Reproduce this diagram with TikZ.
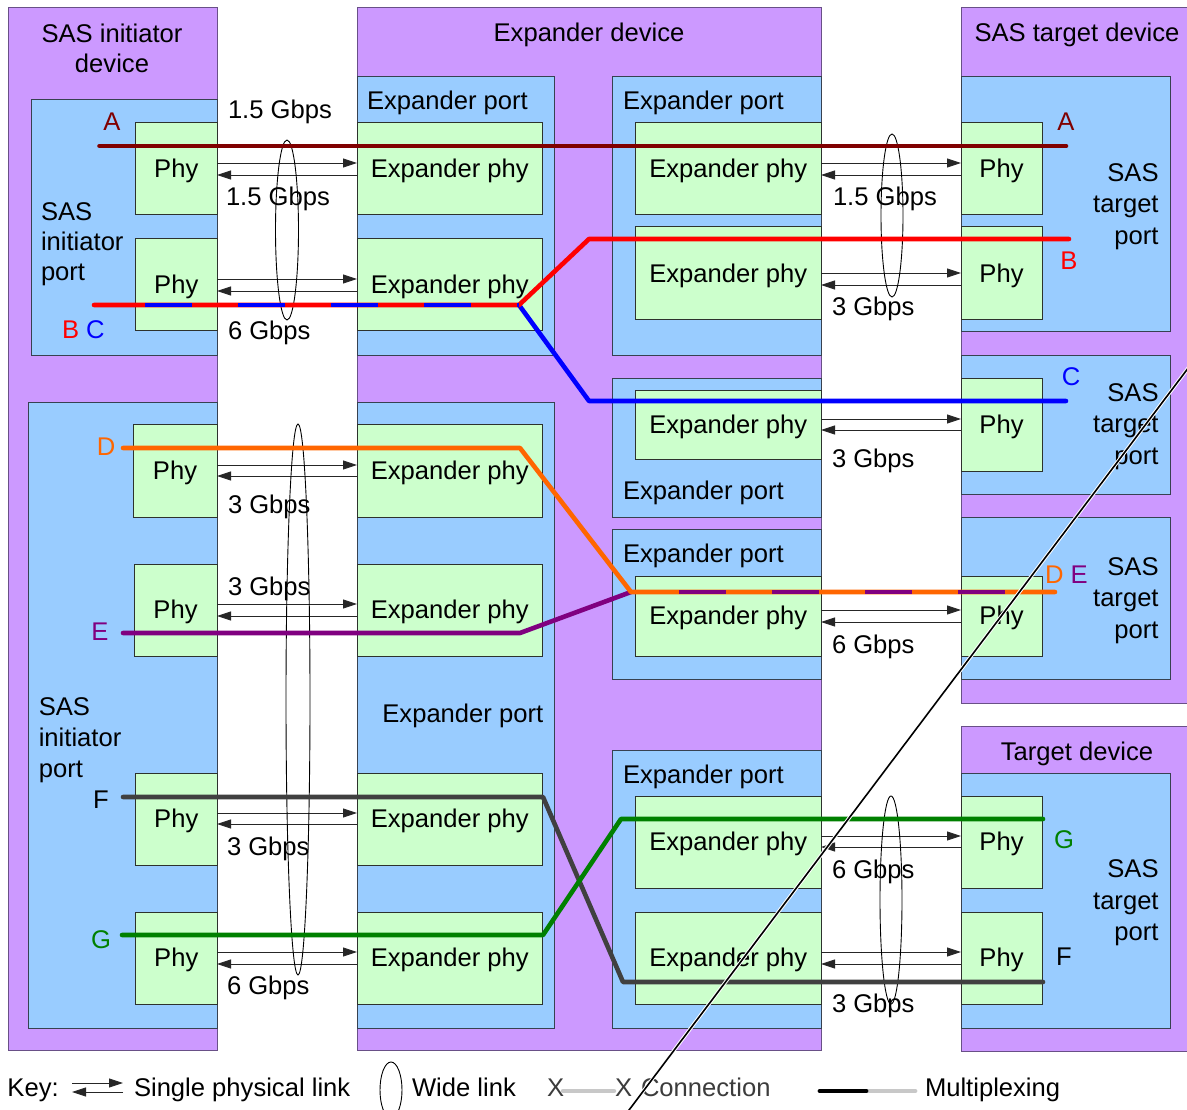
\documentclass[tikz,border=0pt]{standalone}
\usepackage{fontspec}
\setmainfont{Liberation Sans}
\usetikzlibrary{arrows.meta,shapes.geometric}
\definecolor{devfill}{RGB}{204,153,255}
\definecolor{devline}{RGB}{105,80,135}
\definecolor{portfill}{RGB}{153,204,255}
\definecolor{portline}{RGB}{55,65,80}
\definecolor{phyfill}{RGB}{204,255,204}
\definecolor{phyline}{RGB}{45,50,45}
\definecolor{cA}{RGB}{128,0,0}
\definecolor{cB}{RGB}{255,0,0}
\definecolor{cC}{RGB}{0,0,255}
\definecolor{cD}{RGB}{255,102,0}
\definecolor{cE}{RGB}{128,0,128}
\definecolor{cF}{RGB}{64,64,64}
\definecolor{cG}{RGB}{0,128,0}
\definecolor{keygray}{RGB}{200,200,200}
\definecolor{keytext}{RGB}{60,60,60}
\newcommand{\fsz}[1]{\fontsize{25.6}{#1}\selectfont}
\newcommand{\mkbox}[7]{%
  \pgfmathsetmacro{\mkw}{#5-#3}%
  \pgfmathsetmacro{\mkh}{#6-#4}%
  \node[#2, anchor=north west, minimum width=\mkw pt, minimum height=\mkh pt] (#1) at (#3,#4) {#7};}
\begin{document}
\begin{tikzpicture}[x=1pt, y=-1pt,
  every node/.style={font=\fsz{31}, inner sep=0pt, outer sep=0pt},
  devbox/.style={draw=devline, fill=devfill, line width=1pt},
  portbox/.style={draw=portline, fill=portfill, line width=1pt},
  phybox/.style={draw=phyline, fill=phyfill, line width=1pt, text height=17.5pt, text depth=0pt},
  lnk/.style={draw=black!85, line width=0.9pt, -{Triangle[length=14pt,width=9pt]}},
  wide/.style={draw=black, ellipse, line width=0.9pt},
  conn/.style={line width=4.6pt, line cap=round, line join=round},
  muxd/.style={line width=4.6pt, line cap=butt, dash pattern=on 46.5pt off 46.5pt},
  gb/.style={anchor=base west},
  lbl/.style={anchor=base}]
\useasboundingbox (0,0) rectangle (1187,1110);
\clip (0,0) rectangle (1187,1110);
\fill[white] (0,0) rectangle (1187,1110);

% devices
\mkbox{dI}{devbox}{8}{8}{217}{1050}{}
\mkbox{dE}{devbox}{357}{8}{821}{1050}{}
\mkbox{dT}{devbox}{961}{8}{1192}{703}{}
\mkbox{dT2}{devbox}{961}{726}{1192}{1051}{}

% ports
\mkbox{pI1}{portbox}{31}{100}{217}{355}{}
\mkbox{pI2}{portbox}{28}{402}{217}{1028}{}
\mkbox{pE1}{portbox}{357}{77}{554}{355}{}
\mkbox{pE2}{portbox}{357}{402}{554}{1028}{}
\mkbox{pX1}{portbox}{612}{77}{821}{355}{}
\mkbox{pX2}{portbox}{612}{378}{821}{517}{}
\mkbox{pX3}{portbox}{612}{529}{821}{679}{}
\mkbox{pX4}{portbox}{612}{750}{821}{1028}{}
\mkbox{pT1}{portbox}{961}{77}{1170}{332}{}
\mkbox{pT2}{portbox}{961}{355}{1170}{494}{}
\mkbox{pT3}{portbox}{961}{517}{1170}{679}{}
\mkbox{pT4}{portbox}{961}{773}{1170}{1028}{}

% phys
\mkbox{hI1}{phybox}{135.5}{123}{217}{215}{Phy}
\mkbox{hI2}{phybox}{135.5}{239}{217}{331}{Phy}
\mkbox{hI3}{phybox}{133}{424}{217}{517}{Phy}
\mkbox{hI4}{phybox}{134}{564}{217}{656}{Phy}
\mkbox{hI5}{phybox}{135.5}{773}{217}{865}{Phy}
\mkbox{hI6}{phybox}{135.5}{912}{217}{1004}{Phy}

\mkbox{hE1}{phybox}{357}{123}{542.5}{215}{Expander phy}
\mkbox{hE2}{phybox}{357}{239}{542.5}{331}{Expander phy}
\mkbox{hE3}{phybox}{357}{424}{542.5}{517}{Expander phy}
\mkbox{hE4}{phybox}{357}{564}{542.5}{656}{Expander phy}
\mkbox{hE5}{phybox}{357}{773}{542.5}{865}{Expander phy}
\mkbox{hE6}{phybox}{357}{912}{542.5}{1004}{Expander phy}

\mkbox{hX1}{phybox}{635.5}{123}{821}{215}{Expander phy}
\mkbox{hX2}{phybox}{635.5}{227}{821}{320}{Expander phy}
\mkbox{hX3}{phybox}{635.5}{390}{821}{459}{Expander phy}
\mkbox{hX4}{phybox}{635.5}{576}{821}{656}{Expander phy}
\mkbox{hX5}{phybox}{635.5}{796}{821}{888}{Expander phy}
\mkbox{hX6}{phybox}{635.5}{912}{821}{1004}{Expander phy}

\mkbox{hT1}{phybox}{961}{123}{1042}{215}{Phy}
\mkbox{hT2}{phybox}{961}{227}{1042}{320}{Phy}
\mkbox{hT3}{phybox}{961}{378}{1042}{471}{Phy}
\mkbox{hT4}{phybox}{961}{576}{1042}{656}{Phy}
\mkbox{hT5}{phybox}{961}{796}{1042}{888}{Phy}
\mkbox{hT6}{phybox}{961}{912}{1042}{1004}{Phy}

% titles and port labels
\node[anchor=north, align=center, font=\fsz{30}] (tI) at (112,23.6) {SAS initiator\\device};
\node[lbl] (tE) at (589,41.5) {Expander device};
\node[lbl] (tT) at (1077,41.5) {SAS target device};
\node[lbl] (tT2) at (1077,760.5) {Target device};

\node[anchor=north west, align=left, font=\fsz{30}] (lI1) at (41,202.2) {SAS\\initiator\\port};
\node[anchor=north west, align=left, font=\fsz{31}] (lI2) at (38.8,697.6) {SAS\\initiator\\port};
\node[gb] (lE1) at (367,110) {Expander port};
\node[gb] (lE2) at (382.4,722.5) {Expander port};
\node[gb] (lX1) at (623,110) {Expander port};
\node[gb] (lX2) at (623,499) {Expander port};
\node[gb] (lX3) at (623,562.5) {Expander port};
\node[gb] (lX4) at (623,783.5) {Expander port};
\node[anchor=north east, align=right, font=\fsz{31.3}] (lT1) at (1158.6,163.6) {SAS\\target\\port};
\node[anchor=north east, align=right, font=\fsz{31.3}] (lT2) at (1158.6,383.6) {SAS\\target\\port};
\node[anchor=north east, align=right, font=\fsz{31.3}] (lT3) at (1158.6,557.6) {SAS\\target\\port};
\node[anchor=north east, align=right, font=\fsz{31.3}] (lT4) at (1158.6,860) {SAS\\target\\port};

% single physical links
\foreach \k/\u/\d in {1/6/-6,2/6/-6,3/5.5/-5.5,4/6/-6,5/6/-5,6/6/-6}{
  \draw[lnk] ([yshift=\u pt]hI\k.east) -- ([yshift=\u pt]hE\k.west);
  \draw[lnk] ([yshift=\d pt]hE\k.west) -- ([yshift=\d pt]hI\k.east);
}
\foreach \k/\u/\d in {1/6/-6,2/0.5/-11.5,3/5.5/-5.5,4/6/-6,5/6/-5,6/6/-6}{
  \draw[lnk] ([yshift=\u pt]hX\k.east) -- ([yshift=\u pt]hT\k.west);
  \draw[lnk] ([yshift=\d pt]hT\k.west) -- ([yshift=\d pt]hX\k.east);
}

% rate labels
\node[gb] (g1) at (228,119) {1.5 Gbps};
\node[gb] (g2) at (226,206) {1.5 Gbps};
\node[gb] (g3) at (228,339) {6 Gbps};
\node[gb] (g4) at (228,513.5) {3 Gbps};
\node[gb] (g5) at (228,595) {3 Gbps};
\node[gb] (g6) at (227,855.5) {3 Gbps};
\node[gb] (g7) at (227,994.5) {6 Gbps};
\node[gb] (g8) at (833,206) {1.5 Gbps};
\node[gb] (g9) at (832,316) {3 Gbps};
\node[gb] (g10) at (832,467.5) {3 Gbps};
\node[gb] (g11) at (832,653.5) {6 Gbps};
\node[gb] (g12) at (832,878.5) {6 Gbps};
\node[gb] (g13) at (832,1012) {3 Gbps};

% wide links
\node[wide, minimum width=23pt, minimum height=180pt] (w1) at (287,230) {};
\node[wide, minimum width=24pt, minimum height=551pt] (w2) at (298,699.5) {};
\node[wide, minimum width=22pt, minimum height=163pt] (w3) at (892,215.5) {};
\node[wide, minimum width=22pt, minimum height=208pt] (w4) at (891,900) {};

% connections
\coordinate (A1) at (99.5,146); \coordinate (A2) at (1066,146);
\draw[conn, cA] (A1) -- (A2);

\coordinate (BC1) at (94,305); \coordinate (BCj) at (519,305);
\coordinate (BCd) at (145,305);
\coordinate (B2) at (589,239); \coordinate (B3) at (1069,239);
\coordinate (C2) at (589,401); \coordinate (C3) at (1066,401);
\draw[conn, cC] (BCj) -- (C2) -- (C3);
\draw[conn, cB] (BC1) -- (BCj) -- (B2) -- (B3);
\draw[muxd, cC] (BCd) -- (BCj);

\coordinate (D1) at (123,448); \coordinate (D2) at (520,448);
\coordinate (DEj) at (631,592); \coordinate (DE2) at (1055,592);
\coordinate (E1) at (123,633); \coordinate (E2) at (520,633);
\coordinate (DEd) at (679,592); \coordinate (DEe) at (1006,592);
\draw[conn, cE] (E1) -- (E2) -- (DEj);
\draw[conn, cD] (D1) -- (D2) -- (DEj) -- (DE2);
\draw[muxd, cE] (DEd) -- (DEe);

\coordinate (F1) at (123,797); \coordinate (F2) at (543,797);
\coordinate (F3) at (623,982); \coordinate (F4) at (1043,982);
\coordinate (G1) at (122,935); \coordinate (G2) at (543,935);
\coordinate (G3) at (621,819); \coordinate (G4) at (1043,819);
\draw[conn, cF] (F1) -- (F2) -- (F3) -- (F4);
\draw[conn, cG] (G1) -- (G2) -- (G3) -- (G4);

% connection letters
\node[lbl, text=cA] (lA1) at (112,131) {A};
\node[anchor=base west] (lBC) at (62,338.5) {\textcolor{cB}{B} \textcolor{cC}{C}};
\node[lbl, text=cD] (lD) at (106,455.5) {D};
\node[lbl, text=cE] (lEE) at (100,640.5) {E};
\node[lbl] (lF) at (101,808.5) {F};
\node[lbl, text=cG] (lG) at (101,948.5) {G};
\node[lbl, text=cA] (lA2) at (1066,131) {A};
\node[lbl, text=cB] (lB2) at (1069,269.5) {B};
\node[lbl, text=cC] (lC2) at (1071,385.5) {C};
\node[anchor=base west] (lDE) at (1045,583.5) {\textcolor{cD}{D} \textcolor{cE}{E}};
\node[lbl, text=cG] (lG2) at (1064,848.5) {G};
\node[lbl] (lF2) at (1064,965.5) {F};

% key
\node[gb] (kKey) at (7.5,1096) {Key:};
\coordinate (ka1) at (72,1083); \coordinate (ka2) at (123,1083);
\coordinate (kb1) at (123,1092); \coordinate (kb2) at (72,1092);
\draw[lnk] (ka1) -- (ka2);
\draw[lnk] (kb1) -- (kb2);
\node[gb] (kSingle) at (134,1096.5) {Single physical link};
\node[wide, minimum width=22pt, minimum height=56pt] (kW) at (391,1090) {};
\node[gb] (kWide) at (412,1096.5) {Wide link};
\node[gb, text=keytext] (kX1) at (547,1096.5) {X};
\node[gb, text=keytext] (kX2) at (615,1096.5) {X};
\coordinate (kc1) at (563,1091); \coordinate (kc2) at (614,1091);
\draw[keygray, line width=4.5pt, line cap=round] (kc1) -- (kc2);
\node[gb, text=keytext] (kConn) at (641,1096.5) {Connection};
\coordinate (km1) at (820,1091); \coordinate (km2) at (866,1091); \coordinate (km3) at (915,1091);
\draw[keygray, line width=4.8pt, line cap=round] (km2) -- (km3);
\draw[black, line width=4.8pt, line cap=round] (km1) -- (km2);
\node[gb] (kMux) at (925,1096.5) {Multiplexing};

% diagonal stroke
\coordinate (dg1) at (1195,359); \coordinate (dg2) at (620,1122);
\draw[white, line width=3.6pt] (dg1) -- (dg2);
\draw[black, line width=1.6pt] (dg1) -- (dg2);
\end{tikzpicture}
\end{document}
